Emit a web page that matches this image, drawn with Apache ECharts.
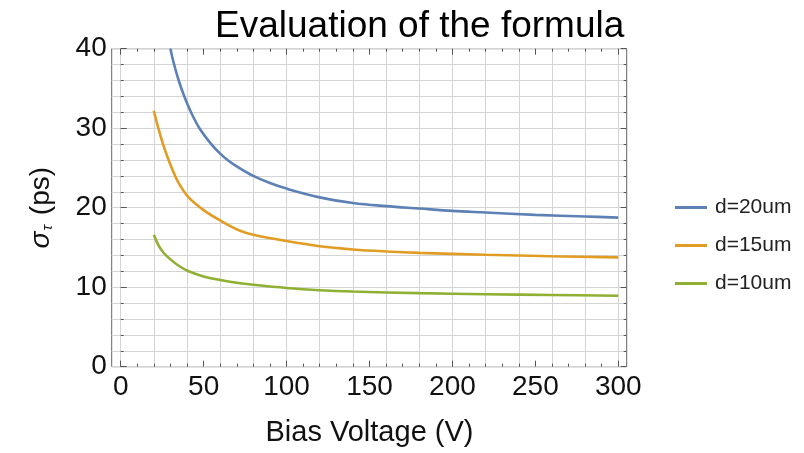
<!DOCTYPE html>
<html>
<head>
<meta charset="utf-8">
<script src="https://cdn.jsdelivr.net/npm/echarts@6/dist/echarts.min.js"></script>
<style>
  html, body { margin: 0; padding: 0; background: #fff; }
  #main { width: 804px; height: 453px; }
</style>
</head>
<body>
<div id="main"></div>
<script>
// values
var d20Volt  = [30, 32, 35, 38, 42, 47.5, 55, 60, 65, 70, 80, 90, 100, 120, 140, 160, 180, 200, 220, 250, 280, 300];
var d20Sigma = [40.0, 38.2, 36.0, 34.2, 32.2, 30.0, 27.9, 26.8, 25.9, 25.2, 24.0, 23.1, 22.4, 21.3, 20.6, 20.2, 19.9, 19.6, 19.4, 19.1, 18.9, 18.75];

var d15Volt  = [20, 22.7, 25.4, 28, 31, 35, 41, 50, 60, 72, 80, 100, 120, 140, 160, 180, 220, 260, 300];
var d15Sigma = [32.2, 30.0, 28.1, 26.5, 24.9, 23.1, 21.3, 19.7, 18.4, 17.1, 16.6, 15.8, 15.15, 14.75, 14.5, 14.32, 14.08, 13.9, 13.75];

var d10Volt  = [20, 23, 26, 30, 35, 41, 50, 60, 70, 80, 100, 120, 140, 180, 220, 260, 300];
var d10Sigma = [16.6, 15.2, 14.3, 13.5, 12.7, 12.0, 11.35, 10.9, 10.55, 10.3, 9.9, 9.62, 9.45, 9.25, 9.12, 9.02, 8.92];

var seriesNames = ['d=20um', 'd=15um', 'd=10um'];
var seriesColors = ['#5e81b5', '#e19c24', '#8fb032'];

var xTickStep = 50;   // labelled ticks
var xGridStep = 20;   // vertical grid lines
var yTickStep = 10;

function zip(xs, ys) {
    var out = [];
    for (var i = 0; i < xs.length; i++) out.push([xs[i], ys[i]]);
    return out;
}

var font = 'Liberation Sans, Arial, sans-serif';
var gridColor = '#d4d4d4';
var tickColor = '#555';

var chart = echarts.init(document.getElementById('main'));

var tickAxis = function (extra) {
    var base = {
        type: 'value',
        axisLine: { show: false },
        axisTick: { show: true, inside: true, length: 6, lineStyle: { color: tickColor, width: 1 } },
        minorTick: { show: true, splitNumber: 5, length: 3, lineStyle: { color: tickColor, width: 1 } },
        splitLine: { show: false },
        axisLabel: { show: false }
    };
    return Object.assign(base, extra);
};

var option = {
    backgroundColor: '#fff',
    animation: false,
    title: {
        text: 'Evaluation of the formula',
        left: 210,
        top: 3,
        textStyle: { fontFamily: font, fontSize: 37, fontWeight: 'normal', color: '#000' }
    },
    legend: {
        orient: 'vertical',
        left: 670,
        top: 192,
        itemWidth: 32,
        itemHeight: 20,
        itemGap: 17,
        icon: 'path://M0,0 L32,0 L32,3 L0,3 Z',
        textStyle: { fontFamily: font, fontSize: 21, color: '#222', padding: [0, 0, 0, 3] },
        data: seriesNames
    },
    grid: [
        { left: 111.7, right: 177.3, top: 48.7, bottom: 86.3, show: true, borderColor: '#666', borderWidth: 1, backgroundColor: 'transparent' },
        { left: 120.7, right: 185.7, top: 48.7, bottom: 86.3 },
        { left: 120.7, right: 185.7, top: 48.7, bottom: 86.3 }
    ],
    xAxis: [
        // data axis, spans the whole frame
        { gridIndex: 0, type: 'value', min: -5.4, max: 305.1, show: false },
        // ticks and labels over 0..300
        tickAxis({
            gridIndex: 1, position: 'bottom', min: 0, max: 300, interval: xTickStep,
            axisLabel: { show: true, margin: 7, fontFamily: font, fontSize: 28, color: '#111' },
            name: 'Bias Voltage (V)', nameLocation: 'middle', nameGap: 52,
            nameTextStyle: { fontFamily: font, fontSize: 29, color: '#111' }
        }),
        tickAxis({ gridIndex: 1, position: 'top', min: 0, max: 300, interval: xTickStep }),
        // vertical grid lines
        {
            gridIndex: 2, type: 'value', min: 0, max: 300, interval: xGridStep,
            axisLine: { show: false }, axisTick: { show: false }, axisLabel: { show: false },
            splitLine: { show: true, lineStyle: { color: gridColor, width: 1 } }
        }
    ],
    yAxis: [
        tickAxis({
            gridIndex: 0, position: 'left', min: 0, max: 40, interval: yTickStep,
            axisLabel: { show: true, margin: 5, fontFamily: font, fontSize: 28, color: '#111' },
            splitLine: { show: true, lineStyle: { color: gridColor, width: 1 } },
            minorSplitLine: { show: true, lineStyle: { color: gridColor, width: 1 } },
            name: '{s|σ}{sub|τ} (ps)',
            nameLocation: 'middle',
            nameGap: 56,
            nameRotate: 90,
            nameTextStyle: {
                fontFamily: font, fontSize: 28, color: '#111',
                rich: {
                    s: { fontFamily: font, fontSize: 28, fontStyle: 'italic', color: '#111' },
                    sub: { fontFamily: font, fontSize: 15, fontStyle: 'italic', color: '#111', verticalAlign: 'bottom', padding: [0, 2, 0, 1] }
                }
            }
        }),
        tickAxis({ gridIndex: 0, position: 'right', min: 0, max: 40, interval: yTickStep }),
        { gridIndex: 1, type: 'value', min: 0, max: 40, show: false },
        { gridIndex: 2, type: 'value', min: 0, max: 40, show: false }
    ],
    series: [
        { name: seriesNames[0], data: zip(d20Volt, d20Sigma) },
        { name: seriesNames[1], data: zip(d15Volt, d15Sigma) },
        { name: seriesNames[2], data: zip(d10Volt, d10Sigma) }
    ].map(function (s, i) {
        return {
            name: s.name,
            type: 'line',
            xAxisIndex: 0,
            yAxisIndex: 0,
            smooth: 0.35,
            symbol: 'none',
            z: 5,
            color: seriesColors[i],
            lineStyle: { color: seriesColors[i], width: 2.6 },
            data: s.data
        };
    })
};

chart.setOption(option);
</script>
</body>
</html>
